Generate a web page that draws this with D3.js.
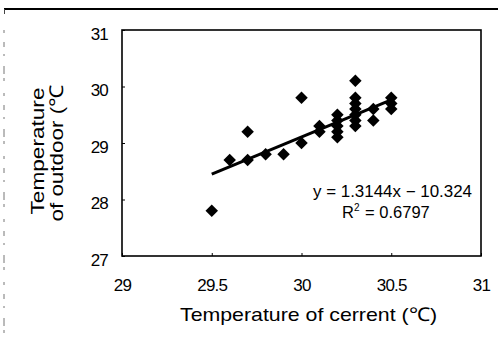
<!DOCTYPE html>
<html>
<head>
<meta charset="utf-8">
<script src="https://cdn.jsdelivr.net/npm/d3@7"></script>
<style>
  html, body { margin: 0; padding: 0; background: #fff; }
  svg { display: block; }
  text { font-family: "Liberation Sans", Arial, Helvetica, sans-serif; fill: #000; }
</style>
</head>
<body>
<svg id="chart" width="498" height="347"></svg>
<script>
// ---- data ----
const currentTemp = [29.5, 29.6, 29.7, 29.7, 29.8, 29.9, 30.0, 30.0, 30.1, 30.1,
                     30.2, 30.2, 30.2, 30.2, 30.2,
                     30.3, 30.3, 30.3, 30.3, 30.3, 30.3, 30.3,
                     30.4, 30.4, 30.5, 30.5, 30.5];
const outdoorTemp = [27.8, 28.7, 28.7, 29.2, 28.8, 28.8, 29.0, 29.8, 29.2, 29.3,
                     29.1, 29.2, 29.3, 29.4, 29.5,
                     29.3, 29.4, 29.5, 29.6, 29.7, 29.8, 30.1,
                     29.4, 29.6, 29.6, 29.7, 29.8];
const trendCoef = [1.3144, -10.324];   // slope, intercept
const trendRange = [29.5, 30.5];
const xTicks = [29, 29.5, 30, 30.5, 31];
const yTicks = [27, 28, 29, 30, 31];
const xTickLabels = ["29", "29.5", "30", "30.5", "31"];
const yTickLabels = ["27", "28", "29", "30", "31"];
const equationText = "y = 1.3144x \u2212 10.324";
const r2Value = "0.6797";
const xTitle = "Temperature of cerrent (\u2103)";
const yTitleLines = ["Temperature", "of outdoor (\u2103"];

// ---- layout ----
const svg = d3.select("#chart");
const L = 122, R = 481, T = 30, B = 256;
const x = d3.scaleLinear().domain([29, 31]).range([L, R]);
const y = d3.scaleLinear().domain([27, 31]).range([B, T]);

// scan artifacts: top rule and left dashed edge
svg.append("line").attr("x1", 4).attr("x2", 498).attr("y1", 9).attr("y2", 9)
  .attr("stroke", "#000").attr("stroke-width", 2);
svg.append("line").attr("x1", 4.5).attr("x2", 4.5).attr("y1", 9).attr("y2", 14)
  .attr("stroke", "#444").attr("stroke-width", 1);
svg.append("line").attr("x1", 4).attr("x2", 4).attr("y1", 30).attr("y2", 340)
  .attr("stroke", "#777").attr("stroke-width", 1)
  .attr("stroke-dasharray", "3,9,5,7,2,10,8,4,3,12");

// frame
svg.append("rect").attr("x", L).attr("y", T).attr("width", R - L).attr("height", B - T)
  .attr("fill", "none").attr("stroke", "#000").attr("stroke-width", 1.6);

// axes (inward ticks)
const xAxis = d3.axisBottom(x).tickValues(xTicks).tickSize(-3).tickFormat((d, i) => xTickLabels[i]).tickPadding(23);
const gx = svg.append("g").attr("transform", `translate(0,${B})`).call(xAxis);
gx.select(".domain").remove();
gx.selectAll("line").attr("stroke", "#000");
gx.selectAll("text").attr("font-size", 17).attr("letter-spacing", -0.8)
  .attr("font-family", "'Liberation Sans', Arial, sans-serif");

const yAxis = d3.axisLeft(y).tickValues(yTicks).tickSize(-3).tickFormat((d, i) => yTickLabels[i]).tickPadding(14);
const gy = svg.append("g").attr("transform", `translate(${L},0)`).call(yAxis);
gy.select(".domain").remove();
gy.selectAll("line").attr("stroke", "#000");
gy.selectAll("text").attr("font-size", 17).attr("letter-spacing", -0.8).attr("dy", "0.55em")
  .attr("font-family", "'Liberation Sans', Arial, sans-serif");

// trend line
const tl = trendRange.map(v => [v, trendCoef[0] * v + trendCoef[1]]);
svg.append("path")
  .attr("d", d3.line().x(d => x(d[0])).y(d => y(d[1]))(tl))
  .attr("stroke", "#000").attr("stroke-width", 3).attr("fill", "none");

// points
const sym = d3.symbol().type(d3.symbolSquare).size(78);
svg.append("g").selectAll("path").data(currentTemp.map((v, i) => [v, outdoorTemp[i]]))
  .join("path")
  .attr("d", sym)
  .attr("transform", d => `translate(${x(d[0])},${y(d[1])}) rotate(45)`)
  .attr("fill", "#000");

// equation text
svg.append("text").attr("x", 472).attr("y", 197).attr("text-anchor", "end")
  .attr("font-size", 16).attr("textLength", 159).attr("lengthAdjust", "spacingAndGlyphs")
  .text(equationText);
const r2 = svg.append("text").attr("x", 342).attr("y", 218).attr("text-anchor", "start")
  .attr("font-size", 16.5);
r2.append("tspan").text("R");
r2.append("tspan").attr("font-size", 10).attr("dy", -7).text("2");
r2.append("tspan").attr("dy", 7).attr("dx", 1).text(" = " + r2Value);

// axis titles
svg.append("text").attr("x", 308.5).attr("y", 321).attr("text-anchor", "middle")
  .attr("font-size", 19).attr("textLength", 257).attr("lengthAdjust", "spacingAndGlyphs")
  .text(xTitle);

const yt = svg.append("g").attr("transform", "rotate(-90)");
yt.append("text").attr("x", -151).attr("y", 44).attr("text-anchor", "middle")
  .attr("font-size", 19).attr("textLength", 127).attr("lengthAdjust", "spacingAndGlyphs")
  .text(yTitleLines[0]);
yt.append("text").attr("x", -153).attr("y", 63).attr("text-anchor", "middle")
  .attr("font-size", 19).attr("textLength", 137).attr("lengthAdjust", "spacingAndGlyphs")
  .text(yTitleLines[1]);
</script>
</body>
</html>
